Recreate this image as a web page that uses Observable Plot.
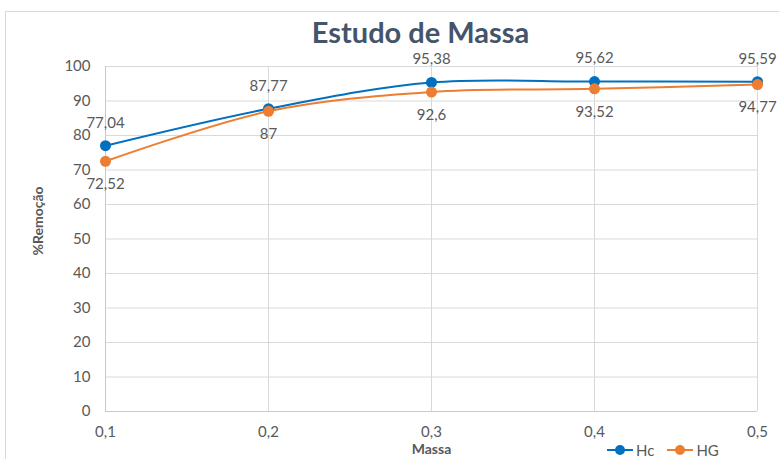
<!DOCTYPE html>
<html><head><meta charset="utf-8">
<script src="https://cdn.jsdelivr.net/npm/d3@7"></script>
<script src="https://cdn.jsdelivr.net/npm/@observablehq/plot@0.6"></script>
<style>
body{margin:0;background:#fff;font-family:Lato,"Open Sans",sans-serif;}
#wrap{position:relative;width:779px;height:459px;overflow:hidden;}
#border{position:absolute;left:5px;top:11px;width:800px;height:500px;border:1px solid #d9d9d9;box-sizing:border-box;}
#legend{position:absolute;top:441px;left:607px;font-size:15px;color:#595959;display:flex;gap:13px;align-items:center;}
.li{display:flex;align-items:center;gap:3px;}
</style></head>
<body><div id="wrap"><div id="border"></div><div id="chart"></div><div id="legend"></div></div>
<script>
const massa = [0.1, 0.2, 0.3, 0.4, 0.5];
const hc = [77.04, 87.77, 95.38, 95.62, 95.59];
const hg = [72.52, 87, 92.6, 93.52, 94.77];
const seriesNames = ["Hc", "HG"];
const colors = ["#0070C0", "#ED7D31"];
const yTicks = [0,10,20,30,40,50,60,70,80,90,100];

const fmt = v => String(v).replace(".", ",");
const rows = [];
massa.forEach((m,i)=>{ rows.push({s:"Hc", x:m, y:hc[i]}); rows.push({s:"HG", x:m, y:hg[i]}); });
const hcRows = rows.filter(r=>r.s==="Hc"), hgRows = rows.filter(r=>r.s==="HG");
const txt = "#595959";

const plot = Plot.plot({
  width: 779, height: 459,
  marginLeft: 105, marginRight: 22, marginTop: 66, marginBottom: 48,
  style: {fontFamily: "Lato, 'Open Sans', sans-serif", background: "transparent", overflow: "visible"},
  x: {domain: [0.1, 0.5]},
  y: {domain: [0, 100]},
  color: {domain: seriesNames, range: colors},
  marks: [
    Plot.gridX(massa, {stroke: "#d9d9d9", strokeOpacity: 1}),
    Plot.gridY(yTicks, {stroke: "#d9d9d9", strokeOpacity: 1}),
    Plot.ruleX([0.1], {stroke: "#bfcbd9"}),
    Plot.ruleY([0], {stroke: "#bfcbd9"}),
    Plot.axisX(massa, {tickSize: 0, tickPadding: 15, fontSize: 15, fill: txt, tickFormat: d => d.toFixed(1).replace(".", ","), label: null}),
    Plot.axisY(yTicks, {tickSize: 0, tickPadding: 15, fontSize: 15, fill: txt, label: null}),
    Plot.line(rows, {x: "x", y: "y", z: "s", stroke: "s", strokeWidth: 2, curve: "catmull-rom"}),
    Plot.dot(rows, {x: "x", y: "y", fill: "s", r: 5.5}),
    Plot.text(hcRows, {x: "x", y: "y", text: d => fmt(d.y), dy: -23, fontSize: 15, fill: txt}),
    Plot.text(hgRows, {x: "x", y: "y", text: d => fmt(d.y), dy: 23, fontSize: 15, fill: txt}),
    Plot.text(["Estudo de Massa"], {frameAnchor: "top", dx: -11, dy: -44, fontSize: 29, fontWeight: "bold", fill: "#44546A"}),
    Plot.text(["Massa"], {frameAnchor: "bottom", dy: 42, fontSize: 14, fontWeight: "bold", fill: txt}),
    Plot.text(["%Remoção"], {frameAnchor: "left", textAnchor: "middle", rotate: -90, dx: -67, dy: -18, fontSize: 14, fontWeight: "bold", fill: txt})
  ]
});
document.getElementById("chart").appendChild(plot);
plot.style.position = "absolute"; plot.style.left = "0"; plot.style.top = "0";

const leg = document.getElementById("legend");
seriesNames.forEach((n,i)=>{
  const d = document.createElement("div"); d.className = "li";
  d.innerHTML = `<svg width="26" height="12"><line x1="0" x2="26" y1="6" y2="6" stroke="${colors[i]}" stroke-width="2"/><circle cx="13" cy="6" r="5" fill="${colors[i]}"/></svg><span>${n}</span>`;
  leg.appendChild(d);
});
</script></body></html>
